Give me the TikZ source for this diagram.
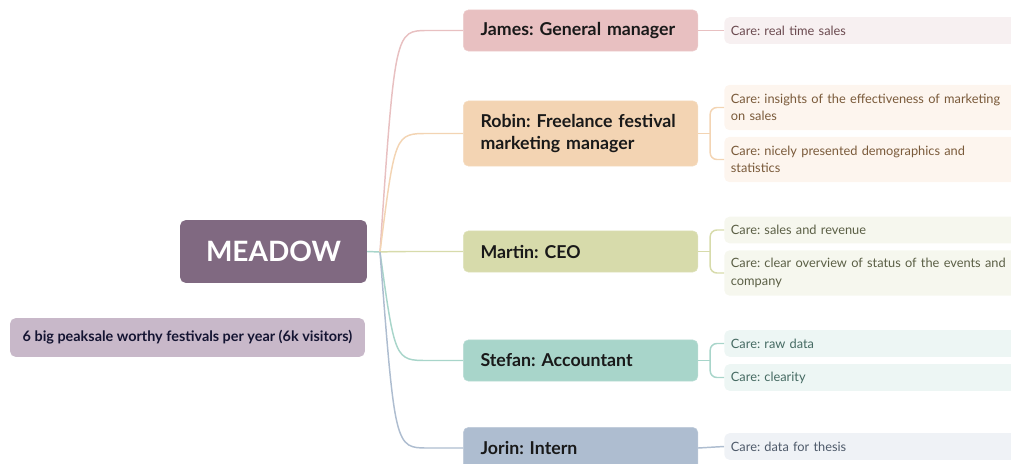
\documentclass[tikz,border=0pt]{standalone}
\usepackage{fontspec}
\setmainfont{Lato}
\usetikzlibrary{calc}
\frenchspacing
\definecolor{rootc}{HTML}{806981}
\definecolor{notec}{HTML}{C8B8C9}
\definecolor{notet}{HTML}{141432}
\definecolor{jamesc}{HTML}{E8C0C1}
\definecolor{robinc}{HTML}{F3D4B3}
\definecolor{martinc}{HTML}{D7DBAB}
\definecolor{stefanc}{HTML}{A8D5CA}
\definecolor{jorinc}{HTML}{AEBDD0}
% light fills and text of the care boxes
\definecolor{jamesl}{HTML}{F7F0F1}\definecolor{jamest}{HTML}{6B4A4F}
\definecolor{robinl}{HTML}{FDF5EE}\definecolor{robint}{HTML}{7A5A3A}
\definecolor{martinl}{HTML}{F6F7EE}\definecolor{martint}{HTML}{5B5F45}
\definecolor{stefanl}{HTML}{EDF6F4}\definecolor{stefant}{HTML}{456A62}
\definecolor{jorinl}{HTML}{EFF2F6}\definecolor{jorint}{HTML}{4E5A6A}
\tikzset{
  role/.style={draw=#1!80!white,fill=#1,rounded corners=4pt,anchor=west,
    minimum width=176pt,minimum height=31pt,text width=150pt,align=left,
    inner xsep=13pt,font=\fontsize{13.3}{16.5}\selectfont\bfseries,text=black!90},
  care/.style={fill=#1l,text=#1t,rounded corners=4pt,anchor=west,
    minimum width=260pt,minimum height=20pt,text width=250pt,align=left,
    inner xsep=5pt,font=\fontsize{9.6}{13}\selectfont},
  branch/.style={#1,line width=1.1pt},
}
\begin{document}
\begin{tikzpicture}[x=0.75pt,y=-0.75pt]
\clip(0,0)rectangle(1011,464);
% root and note
\node[fill=rootc,rounded corners=4pt,minimum width=140pt,minimum height=47pt,
  text=white,font=\fontsize{21}{24}\selectfont\bfseries](meadow)at(273.5,251.5){MEADOW};
\node[fill=notec,rounded corners=4pt,minimum width=266pt,minimum height=29pt,
  text=notet,font=\fontsize{10.8}{12}\selectfont\bfseries](note)at(187.5,337.5)
  {6 big peaksale worthy festivals per year (6k visitors)};
\coordinate(hub)at(380,252);
% roles
\node[role=jamesc](james)at(463,30.5){James: General manager};
\node[role=robinc,minimum height=49pt](robin)at(463,133.5){Robin: Freelance festival\\marketing manager};
\node[role=martinc](martin)at(463,251.5){Martin: CEO};
\node[role=stefanc](stefan)at(463,360.5){Stefan: Accountant};
\node[role=jorinc](jorin)at(463,448){Jorin: Intern};
% cares
\node[care=james](jc)at(724,30.5){Care: real time sales};
\node[care=robin,minimum height=34pt](rc1)at(724,107.5){Care: insights of the effectiveness of marketing\\on sales};
\node[care=robin,minimum height=34pt](rc2)at(724,159.5){Care: nicely presented demographics and\\statistics};
\node[care=martin](mc1)at(724,230){Care: sales and revenue};
\node[care=martin,minimum height=34pt](mc2)at(724,273){Care: clear overview of status of the events and\\company};
\node[care=stefan](sc1)at(724,343.5){Care: raw data};
\node[care=stefan](sc2)at(724,377.5){Care: clearity};
\node[care=jorin](oc)at(724,446.5){Care: data for thesis};
% branches
\draw[branch=stefanc](meadow.east)--(hub);
\foreach \n/\c in {james/jamesc,robin/robinc,martin/martinc,stefan/stefanc,jorin/jorinc}{
\draw[branch=\c](hub)..controls($(hub |- \n.west)+(15,0)$)..($(\n.west)+(-35,0)$)--(\n.west);
}
\draw[branch=jamesc](james.east)--(jc.west);
\draw[branch=jorinc](jorin.east)--(oc.west);
\foreach \n/\a/\b/\c in {robin/rc1/rc2/robinc,martin/mc1/mc2/martinc,stefan/sc1/sc2/stefanc}{
\draw[branch=\c,rounded corners=5pt](\a.west)-|($(\n.east)+(12,0)$)|-(\b.west);
\draw[branch=\c](\n.east)--++(12,0);
}
\end{tikzpicture}
\end{document}
